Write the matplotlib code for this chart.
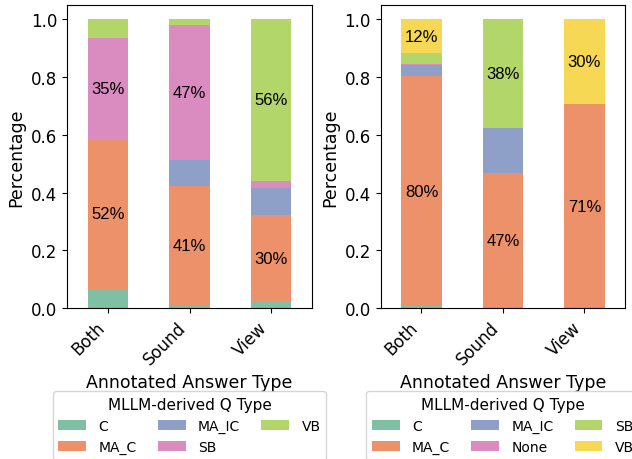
# Stacked bars: MLLM-derived question type per annotated answer type
import numpy as np
import matplotlib.pyplot as plt

# Data
answer_types = ["Both", "Sound", "View"]

left_types = ["C", "MA_C", "MA_IC", "SB", "VB"]
left_C     = [0.067, 0.009, 0.021]
left_MA_C  = [0.519, 0.414, 0.303]
left_MA_IC = [0.000, 0.088, 0.091]
left_SB    = [0.348, 0.469, 0.025]
left_VB    = [0.066, 0.020, 0.560]

right_types = ["C", "MA_C", "MA_IC", "None", "SB", "VB"]
right_C     = [0.007, 0.000, 0.000]
right_MA_C  = [0.796, 0.469, 0.7055]
right_MA_IC = [0.037, 0.155, 0.000]
right_None  = [0.006, 0.000, 0.000]
right_SB    = [0.035, 0.376, 0.000]
right_VB    = [0.119, 0.000, 0.2955]

# Colors (Set2-like, as seen in the picture)
palette = ["#7fc0a5", "#ec916a", "#8fa0c8", "#da8cc0", "#b3d66a", "#f7d854"]

fig = plt.figure(figsize=(6.32, 4.6), dpi=100)
ax_l = fig.add_axes([0.1065, 0.3276, 0.3867, 0.6604])
ax_r = fig.add_axes([0.6024, 0.3276, 0.3866, 0.6604])


def stacked(ax, types, series):
    x = np.arange(len(answer_types))
    bottom = np.zeros(len(answer_types))
    for i, (name, vals) in enumerate(zip(types, series)):
        vals = np.array(vals)
        ax.bar(x, vals, width=0.5, bottom=bottom, color=palette[i], label=name)
        for xi, b, v in zip(x, bottom, vals):
            if v >= 0.1 and name != "MA_IC":
                ax.text(xi, b + v / 2, f"{v * 100:.0f}%", ha="center", va="center",
                        fontsize=12, family="Liberation Sans")
        bottom += vals
    ax.set_xlim(-0.5, len(answer_types) - 0.5)
    ax.set_ylim(0, 1.05)
    ax.set_yticks([0.0, 0.2, 0.4, 0.6, 0.8, 1.0])
    ax.tick_params(labelsize=12)
    ax.set_xticks(x)
    ax.set_xticklabels(answer_types, rotation=45, ha="right")
    ax.set_xlabel("Annotated Answer Type", fontsize=12.5)
    ax.set_ylabel("Percentage", fontsize=12.5)
    pos = ax.get_position()
    ax.legend(title="MLLM-derived Q Type", ncol=3, fontsize=10, title_fontsize=11,
              columnspacing=1.5, handletextpad=0.9, borderaxespad=0,
              loc="upper center", bbox_to_anchor=((pos.x0 + pos.x1) / 2, 0.147),
              bbox_transform=fig.transFigure)


stacked(ax_l, left_types, [left_C, left_MA_C, left_MA_IC, left_SB, left_VB])
stacked(ax_r, right_types, [right_C, right_MA_C, right_MA_IC, right_None, right_SB, right_VB])

plt.savefig("out.png", dpi=100)
